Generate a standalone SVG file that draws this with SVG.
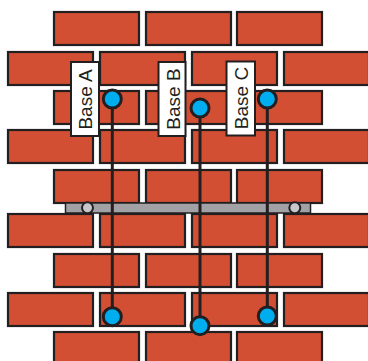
<svg xmlns="http://www.w3.org/2000/svg" width="368" height="361" viewBox="0 0 368 361">
  <style>
    .brick { fill: #d24f34; stroke: #231f20; stroke-width: 2.2; }
    .bar { fill: #a2a2a6; stroke: #231f20; stroke-width: 1.5; }
    .pin { fill: #c8c8cc; stroke: #231f20; stroke-width: 2; }
    .label-box { fill: #ffffff; stroke: #231f20; stroke-width: 2; }
    .label { font-family: "Liberation Sans", Arial, sans-serif; font-size: 19px; fill: #231f20; text-anchor: middle; }
    .wire { stroke: #231f20; stroke-width: 3; fill: none; }
    .base { fill: #00aeef; stroke: #231f20; stroke-width: 3; }
  </style>
  <defs>
    <rect id="b" class="brick" width="85" height="33"/>
    <g id="rowOdd">
      <use href="#b" x="54"/>
      <use href="#b" x="146"/>
      <use href="#b" x="237"/>
    </g>
    <g id="rowEven">
      <use href="#b" x="8"/>
      <use href="#b" x="100"/>
      <use href="#b" x="192"/>
      <use href="#b" x="284"/>
    </g>
  </defs>
  <rect width="368" height="361" fill="#ffffff"/>

  <!-- brick wall -->
  <g id="wall">
    <use href="#rowOdd" y="12"/>
    <use href="#rowEven" y="52"/>
    <use href="#rowOdd" y="91"/>
    <use href="#rowEven" y="130"/>
    <use href="#rowOdd" y="170"/>
    <use href="#rowEven" y="214"/>
    <use href="#rowOdd" y="254"/>
    <use href="#rowEven" y="293"/>
    <use href="#rowOdd" y="332"/>
  </g>

  <!-- grey rail with end pins -->
  <g id="rail">
    <rect class="bar" x="65.5" y="203" width="245" height="10"/>
    <circle class="pin" cx="87.5" cy="207.8" r="5.5"/>
    <circle class="pin" cx="294.8" cy="207.8" r="5.5"/>
  </g>

  <!-- labels -->
  <g id="label-a">
    <rect class="label-box" x="71" y="62" width="28" height="74"/>
    <text class="label" x="92" y="99.5" transform="rotate(-90 92 99.5)">Base A</text>
  </g>
  <g id="label-b">
    <rect class="label-box" x="158.5" y="62" width="27" height="74"/>
    <text class="label" x="180" y="99" transform="rotate(-90 180 99)">Base B</text>
  </g>
  <g id="label-c">
    <rect class="label-box" x="226.5" y="61.5" width="28.5" height="74"/>
    <text class="label" x="248" y="98" transform="rotate(-90 248 98)">Base C</text>
  </g>

  <!-- connectors -->
  <g id="connectors">
    <line class="wire" x1="112.3" y1="99" x2="112.3" y2="316.7"/>
    <line class="wire" x1="200" y1="108" x2="200" y2="325.7"/>
    <line class="wire" x1="267.3" y1="99" x2="267.3" y2="316"/>
  </g>

  <!-- base points -->
  <g id="base-a">
    <circle class="base" cx="112.3" cy="99" r="9"/>
    <circle class="base" cx="112.3" cy="316.7" r="9"/>
  </g>
  <g id="base-b">
    <circle class="base" cx="200" cy="108" r="9"/>
    <circle class="base" cx="200" cy="325.7" r="9"/>
  </g>
  <g id="base-c">
    <circle class="base" cx="267.3" cy="99" r="9"/>
    <circle class="base" cx="267.3" cy="316" r="9"/>
  </g>
</svg>
